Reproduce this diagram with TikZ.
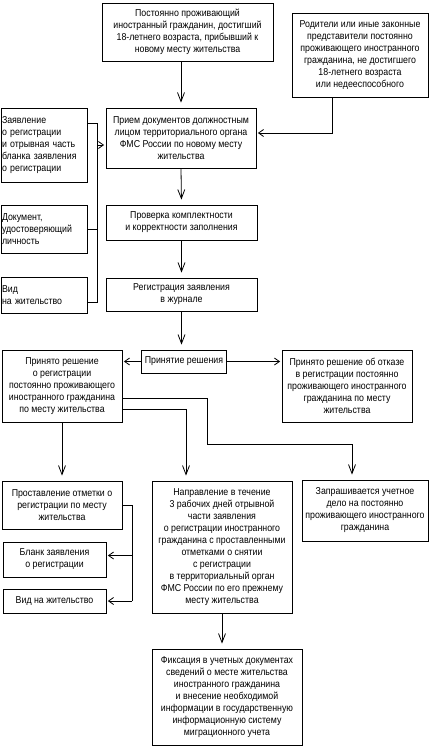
\documentclass[tikz,border=0pt]{standalone}
\usepackage{fontspec}
\setmainfont{Liberation Sans}[FakeStretch=0.88]
\usetikzlibrary{arrows.meta,calc}

\begin{document}
\begin{tikzpicture}[x=1pt, y=-1pt, line width=0.8pt,
    box/.style={draw, font=\fontsize{10}{12}\selectfont, align=center, inner sep=1pt},
    arrdown/.style={-{Straight Barb[length=9pt,width=7pt]}, shorten >=5pt},
    arrside/.style={-{Straight Barb[length=5pt,width=7pt]}, shorten >=1.5pt}]
  \useasboundingbox (0,0) rectangle (434,749);

  \node[box, minimum width=171, minimum height=58] (start)
      at (187.5,32) {Постоянно проживающий\\иностранный гражданин, достигший\\18-летнего возраста, прибывший к\\новому месту жительства};

  \node[box, minimum width=136, minimum height=84] (parents)
      at (360,55) {Родители или иные законные\\представители постоянно\\проживающего иностранного\\гражданина, не достигшего\\18-летнего возраста\\или недееспособного};

  \node[box, minimum width=150, minimum height=60] (accept)
      at (181,138) {Прием документов должностным\\лицом территориального органа\\ФМС России по новому месту\\жительства};

  \node[box, text width=84, align=left, minimum height=74] (doc1)
      at (44,145) {Заявление\\о регистрации\\и отрывная часть\\бланка заявления\\о регистрации};
  \node[box, text width=84, align=left, minimum height=48] (doc2)
      at (44,229) {Документ,\\удостоверяющий\\личность};
  \node[box, text width=84, align=left, minimum height=36] (doc3)
      at (44,295) {Вид\\на жительство};

  \node[box, minimum width=151, minimum height=35] (check)
      at (181.5,222.5) {Проверка комплектности\\и корректности заполнения};
  \node[box, minimum width=151, minimum height=33] (journal)
      at (181.5,294.5) {Регистрация заявления\\в журнале};

  \node[box, minimum width=85, minimum height=23] (decide)
      at (184,361.5) {Принятие решения};
  \node[box, minimum width=120, minimum height=72] (yes)
      at (62,386) {Принято решение\\о регистрации\\постоянно проживающего\\иностранного гражданина\\по месту жительства};
  \node[box, minimum width=130, minimum height=72] (no)
      at (347,386) {Принято решение об отказе\\в регистрации постоянно\\проживающего иностранного\\гражданина по месту\\жительства};

  \node[box, minimum width=120, minimum height=48] (mark)
      at (62,505) {Проставление отметки о\\регистрации по месту\\жительства};
  \node[box, minimum width=103, minimum height=35] (blank)
      at (54.5,559.5) {Бланк заявления\\о регистрации};
  \node[box, minimum width=103, minimum height=24] (permit)
      at (54.5,601) {Вид на жительство};

  \node[box, minimum width=140, minimum height=132] (send)
      at (222,547) {Направление в течение\\3 рабочих дней отрывной\\части заявления\\о регистрации иностранного\\гражданина с проставленными\\отметками о снятии\\с регистрации\\в территориальный орган\\ФМС России по его прежнему\\месту жительства};
  \node[box, minimum width=126, minimum height=61] (file)
      at (365,510.5) {Запрашивается учетное\\дело на постоянно\\проживающего иностранного\\гражданина};
  \node[box, minimum width=150, minimum height=96] (fix)
      at (227,697) {Фиксация в учетных документах\\сведений о месте жительства\\иностранного гражданина\\и внесение необходимой\\информации в государственную\\информационную систему\\миграционного учета};

  % upper part
  \draw[arrdown] (start.south -| accept.north) -- (accept.north);
  \draw[arrside] ($(parents.south)+(-28,0)$) |- ([yshift=5pt]accept.east);
  \coordinate (b1) at (97,123);
  \coordinate (b3) at (97,302);
  \draw (b1 -| doc1.east) -- (b1) -- (b3) -- (b3 -| doc3.east);
  \draw (doc2.east) -- (doc2.east -| b1);
  \draw[arrside] (doc1.east -| b1) -- (accept.west |- doc1.east);
  \draw[arrdown] (accept.south) -- (check.north);
  \draw[arrdown] (check.south) -- (journal.north);
  \draw[arrdown] (journal.south) -- (journal.south |- decide.north);
  \draw[arrside] (decide.west) -- (decide.west -| yes.east);
  \draw[arrside] (decide.east) -- (decide.east -| no.west);

  % lower part
  \coordinate (bend) at (207,444);
  \draw[arrdown] ([yshift=-12pt]yes.east) -| (bend) -| ($(file.north)+(-13,0)$);
  \draw[arrdown] ([yshift=-23pt]yes.east) -| ($(send.north)+(-36,0)$);
  \draw[arrdown] (yes.south) -- (mark.north);
  \coordinate (mb) at (132,601);
  \draw (mark.east) -| (mb);
  \draw[arrside] ([yshift=4pt]blank.east -| mb) -- ([yshift=4pt]blank.east);
  \draw[arrside] (mb) -- (permit.east);
  \draw[arrdown] (send.south) -- (send.south |- fix.north);
\end{tikzpicture}
\end{document}
